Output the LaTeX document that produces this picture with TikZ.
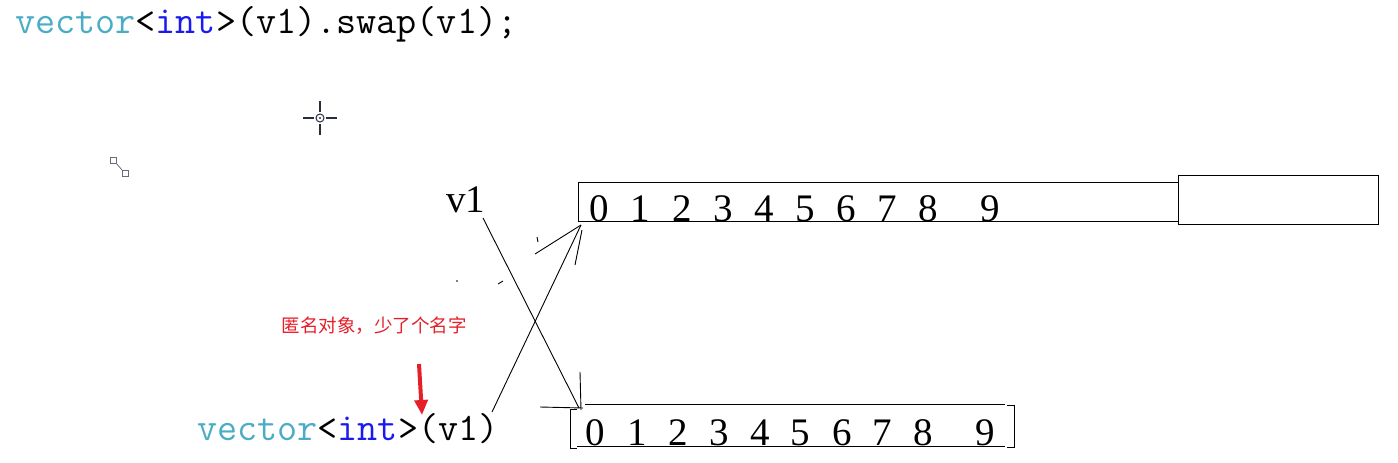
\documentclass[tikz,border=0pt]{standalone}
\usepackage{fontspec}
\newfontfamily\cjk{Noto Sans CJK SC}
\newfontfamily\numfont{Liberation Serif}
\usetikzlibrary{arrows.meta}
\definecolor{vteal}{RGB}{75,172,198}
\definecolor{vblue}{RGB}{25,25,240}
\definecolor{ared}{RGB}{230,30,40}
\definecolor{iconc}{RGB}{40,44,60}
\begin{document}
\begin{tikzpicture}[x=1pt,y=-1pt,
  code/.style={inner sep=0pt,anchor=base west,font=\ttfamily\fontsize{39}{40}\selectfont},
  digit/.style={inner sep=0pt,anchor=base,font=\numfont\fontsize{39}{40}\selectfont},
  thin line/.style={line width=0.9pt,black},
  boxline/.style={line width=1pt,black}]
\useasboundingbox (0,0) rectangle (1398,463);
% top code line
\node[code] (topcode) at (15,33) {\textcolor{vteal}{vector}<\textcolor{vblue}{int}>(v1).swap(v1);};
% crosshair icon
\begin{scope}[iconc,line width=2.3pt]
\coordinate (cross) at (320,118);
\draw (303,118) -- (314,118) (326,118) -- (337,118) (320,101) -- (320,112) (320,124) -- (320,135);
\draw[line width=1pt] (cross) circle (4);
\fill (cross) circle (1.2);
\end{scope}
% small link icon
\begin{scope}[iconc!70,line width=0.8pt]
\draw (110,157) rectangle (116,163);
\draw (122,170) rectangle (128,176);
\draw (116,163) -- (122,170);
\end{scope}
% v1 label
\node[digit,anchor=base west] (v1) at (446,212) {v1};
% top boxes
\draw[boxline] (578,182) rectangle (1178,221);
\node[draw,boxline,minimum width=200pt,minimum height=49pt,inner sep=0pt,anchor=north west] (extra) at (1178,175) {};
\foreach \d/\x in {0/599,1/640,2/682,3/723,4/764,5/805,6/846,7/887,8/928,9/990}
  \node[digit] (t\d) at (\x,221) {\d};
% bottom storage
\draw[boxline] (585,404) -- (1005,404);
\draw[boxline] (577,446) -- (1005,446);
\draw[boxline] (577,409) -- (570,409) -- (570,448) -- (577,448);
\draw[boxline] (1007,405) -- (1014,405) -- (1014,447) -- (1007,447);
\foreach \d/\x in {0/595,1/637,2/678,3/719,4/760,5/800,6/842,7/882,8/923,9/985}
  \node[digit] (b\d) at (\x,445) {\d};
% bottom code
\node[code] (anon) at (197,440) {\textcolor{vteal}{vector}<\textcolor{vblue}{int}>(v1)};
% annotation
\node[inner sep=0pt,text=ared,font=\cjk\fontsize{18.5}{20}\selectfont] (note) at (374,326) {匿名对象，少了个名字};
\coordinate (arrtail) at (419,364);
\coordinate (arrtip) at (422,415);
\draw[ared,line width=4pt,-{Triangle[length=15pt,width=13pt]}] (arrtail) -- (arrtip);
% crossing connectors
\coordinate (v1foot) at (483,218);
\coordinate (anonfoot) at (492,412);
\coordinate (topcorner) at (581,225);
\coordinate (botcorner) at (579,408);
\draw[thin line] (v1foot) -- (botcorner);
\draw[thin line] (anonfoot) -- (topcorner);
% hand-drawn arrow strokes
\coordinate (h1) at (535,254);
\coordinate (h2) at (575,265);
\coordinate (h2e) at (582,230);
\draw[thin line] (h1) -- (topcorner);
\draw[thin line] (h2) -- (h2e);
\coordinate (h3) at (580,372);
\coordinate (h3e) at (581,410);
\coordinate (h4) at (540,407);
\coordinate (h4e) at (583,408);
\draw[thin line] (h3) -- (h3e);
\draw[thin line] (h4) -- (h4e);
% stray marks
\coordinate (m1) at (537,237);
\coordinate (m1e) at (538,242);
\coordinate (m2) at (498,284);
\coordinate (m2e) at (503,281);
\draw[thin line] (m1) -- (m1e);
\draw[thin line] (m2) -- (m2e);
\fill (457,281) circle (0.8);
\end{tikzpicture}
\end{document}
